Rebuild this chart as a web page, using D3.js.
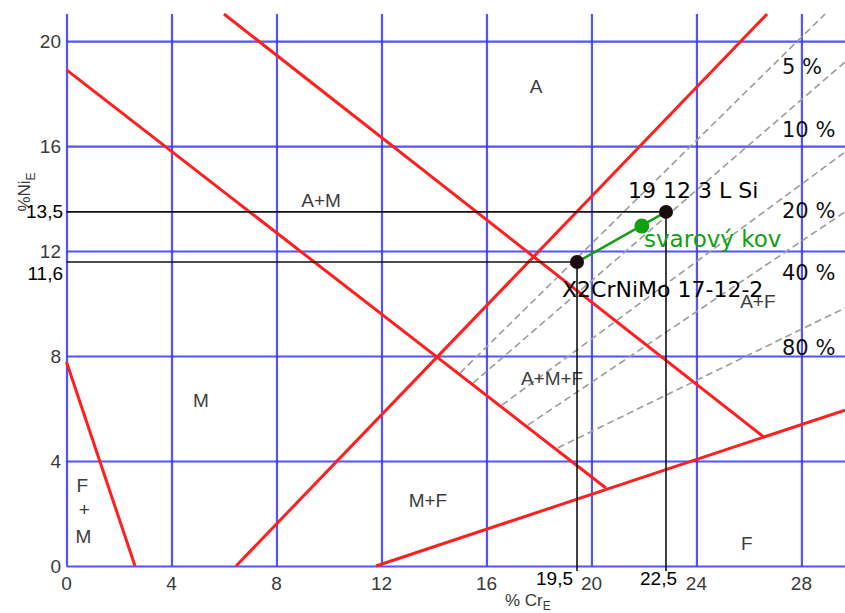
<!DOCTYPE html>
<html>
<head>
<meta charset="utf-8">
<script src="https://cdn.jsdelivr.net/npm/d3@7"></script>
<style>
  body { margin: 0; background: #fff; }
  svg { display: block; }
</style>
</head>
<body>
<svg id="svg" width="845" height="613"></svg>
<script>
// axis ticks
const xTicks = [0, 4, 8, 12, 16, 20, 24, 28];
const yTicks = [0, 4, 8, 12, 16, 20];

// red phase boundaries, [CrE, NiE] endpoints
const boundaryStart = [[0, 18.9], [6.0, 21.03], [6.46, 0], [11.79, 0], [0, 7.77]];
const boundaryEnd = [[20.55, 2.97], [26.57, 4.91], [26.69, 21.03], [29.66, 5.94], [2.61, 0]];

// iso-ferrite dashed lines
const ferriteLabels = ["5 %", "10 %", "20 %", "40 %", "80 %"];
const ferriteStart = [[14.99, 7.35], [15.49, 6.97], [16.59, 6.13], [17.58, 5.37], [18.72, 4.5]];
const ferriteEnd = [[28.9, 21.03], [29.66, 19.2], [29.66, 15.77], [29.66, 13.49], [29.66, 9.83]];
const ferriteLabelNi = [18.74, 16.34, 13.26, 10.9, 8.04];

// phase region labels
const regionNames = ["A", "A+M", "M", "A+M+F", "M+F", "F", "A+F", "F", "+", "M"];
const regionCr = [17.89, 9.7, 5.12, 18.5, 13.77, 25.92, 26.34, 0.6, 0.68, 0.64];
const regionNi = [18.02, 13.68, 6.06, 6.9, 2.25, 0.61, 9.83, 2.82, 1.9, 0.88];

// base material and filler metal
const materialNames = ["X2CrNiMo 17-12-2", "19 12 3 L Si"];
const materialCr = [19.45, 22.84];
const materialNi = [11.58, 13.49];
const crLabels = ["19,5", "22,5"];
const niLabels = ["11,6", "13,5"];
const weldName = "svarový kov";
const weldCr = 21.92;
const weldNi = 12.95;

const svg = d3.select("#svg");
const x = d3.scaleLinear().domain([0, 29.66]).range([66.5, 845]);
const y = d3.scaleLinear().domain([0, 21.03]).range([566, 14]);
const sans = "'Liberation Sans', Arial, sans-serif";
const dejavu = "'DejaVu Sans', sans-serif";

// grid
const gridX = svg.append("g")
  .attr("transform", `translate(0, ${y(0)})`)
  .call(d3.axisBottom(x).tickValues(xTicks).tickSize(-(y(0) - y(21.03))).tickFormat(""));
const gridY = svg.append("g")
  .attr("transform", `translate(${x(0)}, 0)`)
  .call(d3.axisLeft(y).tickValues(yTicks).tickSize(-(x(29.66) - x(0))).tickFormat(""));
[gridX, gridY].forEach(g => {
  g.select(".domain").remove();
  g.selectAll("line").attr("stroke", "#3535ff").attr("stroke-width", 2.2).attr("stroke-opacity", 0.85);
});

// tick labels
svg.append("g").selectAll("text").data(xTicks).join("text")
  .attr("x", d => x(d)).attr("y", 590)
  .attr("text-anchor", "middle")
  .style("font", `19px ${sans}`).attr("fill", "#3a3a3a")
  .text(d => d);
svg.append("g").selectAll("text").data(yTicks).join("text")
  .attr("x", 61).attr("y", d => y(d) + 7)
  .attr("text-anchor", "end")
  .style("font", `19px ${sans}`).attr("fill", "#3a3a3a")
  .text(d => d);

// dashed iso-ferrite lines
svg.append("g").selectAll("line").data(ferriteStart).join("line")
  .attr("x1", d => x(d[0])).attr("y1", d => y(d[1]))
  .attr("x2", (d, i) => x(ferriteEnd[i][0])).attr("y2", (d, i) => y(ferriteEnd[i][1]))
  .attr("stroke", "#a0a0a0").attr("stroke-width", 1.7).attr("stroke-dasharray", "7,4");

// red boundaries
svg.append("g").selectAll("line").data(boundaryStart).join("line")
  .attr("x1", d => x(d[0])).attr("y1", d => y(d[1]))
  .attr("x2", (d, i) => x(boundaryEnd[i][0])).attr("y2", (d, i) => y(boundaryEnd[i][1]))
  .attr("stroke", "#ff1f1f").attr("stroke-width", 3);

// region labels
svg.append("g").selectAll("text").data(regionNames).join("text")
  .attr("x", (d, i) => x(regionCr[i])).attr("y", (d, i) => y(regionNi[i]))
  .attr("text-anchor", "middle")
  .style("font", `19px ${sans}`).attr("fill", "#3d3d3d")
  .text(d => d);

// ferrite labels
svg.append("g").selectAll("text").data(ferriteLabels).join("text")
  .attr("x", 782).attr("y", (d, i) => y(ferriteLabelNi[i]))
  .style("font", `21px ${dejavu}`).attr("fill", "#111")
  .text(d => d);

// reference lines to the axes
const refs = svg.append("g").attr("stroke", "#111").attr("stroke-width", 1.6);
materialCr.forEach((c, i) => {
  refs.append("line").attr("x1", x(0)).attr("x2", x(c))
    .attr("y1", y(materialNi[i])).attr("y2", y(materialNi[i]));
  refs.append("line").attr("x1", x(c)).attr("x2", x(c))
    .attr("y1", y(materialNi[i])).attr("y2", y(0) + 5);
});

// black tick labels of the two materials
const crDx = [-4, 11];
svg.append("g").selectAll("text").data(crLabels).join("text")
  .attr("x", (d, i) => x(materialCr[i]) + crDx[i]).attr("y", 585)
  .attr("text-anchor", "end")
  .style("font", `19px ${sans}`).attr("fill", "#000")
  .text(d => d);
const niDy = [18, 6];
svg.append("g").selectAll("text").data(niLabels).join("text")
  .attr("x", 63).attr("y", (d, i) => y(materialNi[i]) + niDy[i])
  .attr("text-anchor", "end")
  .style("font", `19px ${sans}`).attr("fill", "#000")
  .text(d => d);

// weld line and points
svg.append("line")
  .attr("x1", x(materialCr[0])).attr("y1", y(materialNi[0]))
  .attr("x2", x(materialCr[1])).attr("y2", y(materialNi[1]))
  .attr("stroke", "#12a012").attr("stroke-width", 2.5);
svg.append("g").selectAll("circle").data(materialCr).join("circle")
  .attr("cx", d => x(d)).attr("cy", (d, i) => y(materialNi[i]))
  .attr("r", 7).attr("fill", "#1a0c0c");
svg.append("circle")
  .attr("cx", x(weldCr)).attr("cy", y(weldNi))
  .attr("r", 7.5).attr("fill", "#12a012");

// material names
svg.append("text").attr("x", 562).attr("y", 297)
  .style("font", `22px ${dejavu}`).attr("fill", "#000")
  .text(materialNames[0]);
svg.append("text").attr("x", 628).attr("y", 198)
  .style("font", `22px ${dejavu}`).attr("fill", "#000")
  .text(materialNames[1]);
svg.append("text").attr("x", 644).attr("y", 247)
  .style("font", `23px ${dejavu}`).attr("fill", "#12a012")
  .text(weldName);

// axis titles
const xt = svg.append("text").attr("x", 505).attr("y", 606)
  .style("font", `17px ${sans}`).attr("fill", "#3a3a3a");
xt.append("tspan").text("% Cr");
xt.append("tspan").attr("dy", 4).style("font-size", "12px").text("E");

const yt = svg.append("text")
  .attr("transform", "translate(30, 192) rotate(-90)")
  .attr("text-anchor", "middle")
  .style("font", `17px ${sans}`).attr("fill", "#3a3a3a");
yt.append("tspan").text("%Ni");
yt.append("tspan").attr("dy", 5).style("font-size", "12px").text("E");
</script>
</body>
</html>
